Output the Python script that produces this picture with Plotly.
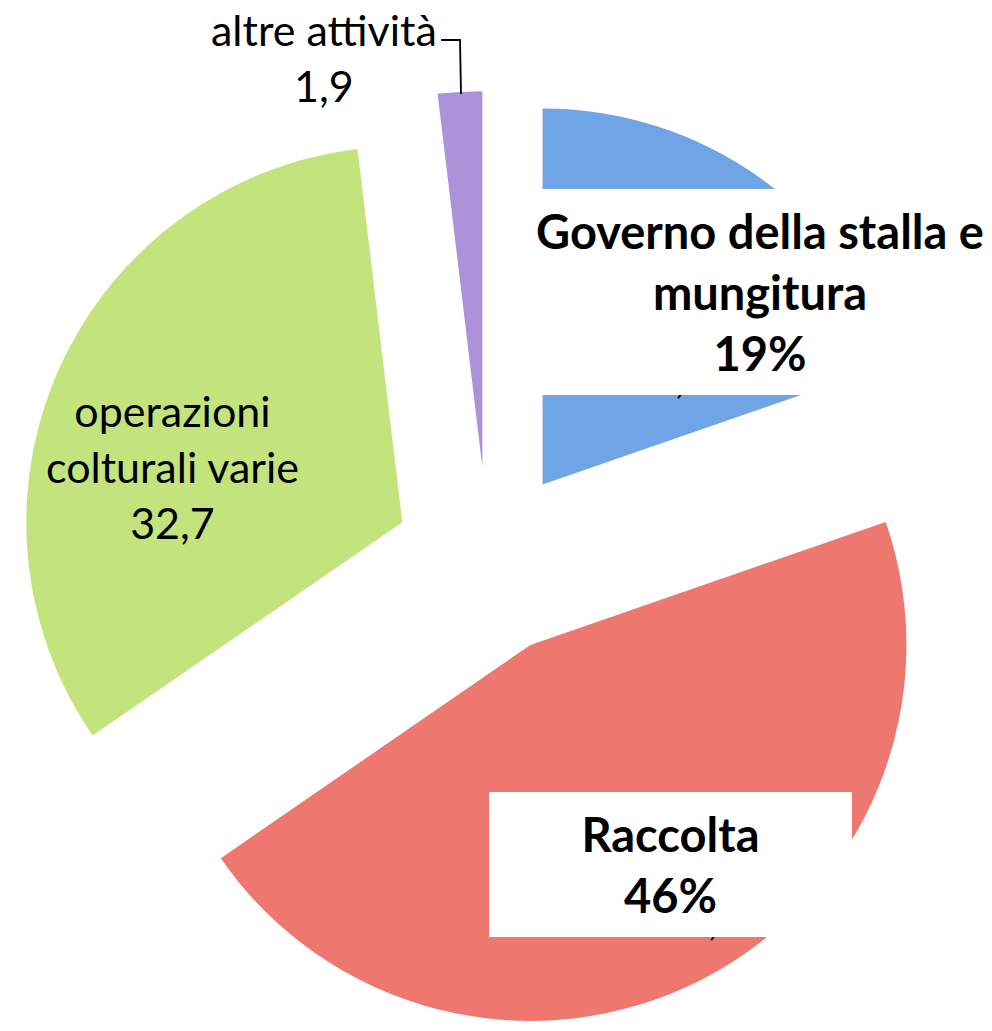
import plotly.graph_objects as go

# ---- data ----
categories = ["Governo della stalla e mungitura", "Raccolta",
              "operazioni colturali varie", "altre attività"]
values = [19.7, 45.7, 32.7, 1.9]
value_labels = ["19,7", "45,7", "32,7", "1,9"]
box_percent = ["19%", "46%"]
colors = ["#6FA4E6", "#EE7770", "#C3E47C", "#AB92D9"]

OFF = 8  # page body margin
W, H = 992 - OFF, 1031 - OFF
L, R, T, B = 10, 34, 83, 0
PW, PH = W - L - R, H - T - B


def px(x):
    return (x - OFF - L) / PW


def py(y):
    return 1 - (y - OFF - T) / PH


FONT = "Lato, 'Open Sans', sans-serif"

fig = go.Figure(go.Pie(
    labels=categories,
    values=values,
    sort=False,
    direction="clockwise",
    rotation=0,
    pull=[0.25] * len(values),
    marker=dict(colors=colors, line=dict(width=0)),
    textinfo="none",
    hoverinfo="label+value",
    showlegend=False,
))

ann = []
# value labels partly covered by the white boxes
ann.append(dict(x=px(667), y=py(376), text=value_labels[0], showarrow=False,
                font=dict(family=FONT, size=43, color="black"),
                xanchor="center", yanchor="middle"))
ann.append(dict(x=px(700), y=py(918), text=value_labels[1], showarrow=False,
                font=dict(family=FONT, size=43, color="black"),
                xanchor="center", yanchor="middle"))
# white boxes
ann.append(dict(x=px(760), y=py(292),
                text="<b>Governo della stalla e<br>mungitura<br>" + box_percent[0] + "</b>",
                showarrow=False, width=470, height=206, bgcolor="white",
                borderpad=0, borderwidth=0,
                font=dict(family=FONT, size=47, color="black"),
                xanchor="center", yanchor="middle", align="center"))
ann.append(dict(x=px(670.5), y=py(864.5),
                text="<b>" + categories[1] + "<br>" + box_percent[1] + "</b>",
                showarrow=False, width=363, height=145, bgcolor="white",
                borderpad=0, borderwidth=0,
                font=dict(family=FONT, size=47, color="black"),
                xanchor="center", yanchor="middle", align="center"))
# green slice label
ann.append(dict(x=px(172), y=py(466),
                text="operazioni<br>colturali varie<br>" + value_labels[2],
                showarrow=False,
                font=dict(family=FONT, size=43, color="black"),
                xanchor="center", yanchor="middle", align="center"))
# altre attività label
ann.append(dict(x=px(324), y=py(58),
                text=categories[3] + "<br>" + value_labels[3],
                showarrow=False,
                font=dict(family=FONT, size=43, color="black"),
                xanchor="center", yanchor="middle", align="center"))

shapes = [dict(type="path", xref="paper", yref="paper",
               path=f"M {px(441)},{py(40)} L {px(460)},{py(40)} L {px(461)},{py(94)}",
               line=dict(color="black", width=1.8))]

fig.update_layout(
    width=W, height=H,
    margin=dict(l=L, r=R, t=T, b=B),
    paper_bgcolor="white", plot_bgcolor="white",
    annotations=ann, shapes=shapes,
)

fig.write_html("out.html")
